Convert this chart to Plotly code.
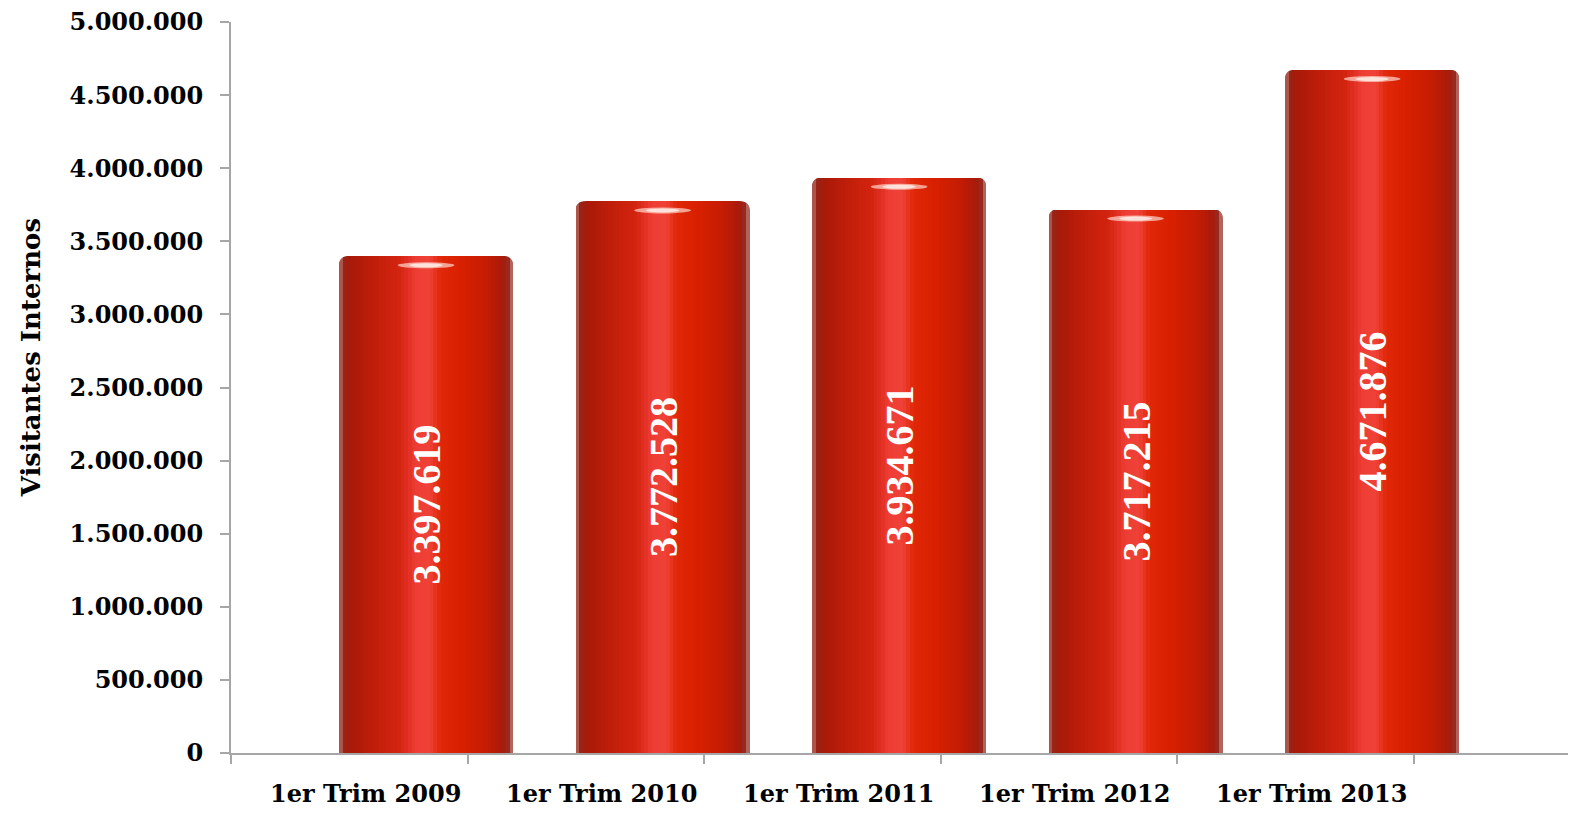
import plotly.graph_objects as go

# ---- data ----
categories = ["1er Trim 2009", "1er Trim 2010", "1er Trim 2011", "1er Trim 2012", "1er Trim 2013"]
values = [3397619, 3772528, 3934671, 3717215, 4671876]
y_ticks = [0, 500000, 1000000, 1500000, 2000000, 2500000, 3000000, 3500000, 4000000, 4500000, 5000000]
y_title = "Visitantes Internos"


def fmt(v):
    return f"{v:,}".replace(",", ".")


# ---- style ----
BAR_OFFSET = 0.825   # bar centre within each category slot
BAR_W = 0.736
N_STRIPS = 48
stops = [
    (0.00, (190, 120, 112)),
    (0.025, (150, 36, 24)),
    (0.07, (168, 26, 8)),
    (0.20, (192, 30, 10)),
    (0.35, (212, 36, 16)),
    (0.44, (238, 60, 52)),
    (0.52, (240, 66, 56)),
    (0.58, (224, 40, 8)),
    (0.70, (216, 32, 0)),
    (0.85, (196, 28, 4)),
    (0.94, (168, 26, 10)),
    (0.975, (150, 44, 36)),
    (1.00, (196, 140, 136)),
]


def grad(t):
    for (t0, c0), (t1, c1) in zip(stops[:-1], stops[1:]):
        if t0 <= t <= t1:
            f = (t - t0) / (t1 - t0) if t1 > t0 else 0
            c = [round(a + (b - a) * f) for a, b in zip(c0, c1)]
            return f"rgb({c[0]},{c[1]},{c[2]})"
    return "rgb(200,30,10)"


xc = [i + BAR_OFFSET for i in range(len(categories))]

fig = go.Figure()
sw = BAR_W / N_STRIPS
for k in range(N_STRIPS):
    left = -BAR_W / 2 + k * sw
    width = min(sw * 1.8, BAR_W / 2 - left)
    fig.add_trace(go.Bar(
        x=xc, y=values, offset=left, width=width,
        marker=dict(color=grad((k + 0.5) / N_STRIPS), line=dict(width=0)),
        hoverinfo="skip", showlegend=False,
    ))

# label layer
fig.add_trace(go.Bar(
    x=xc, y=values, width=BAR_W,
    marker=dict(color="rgba(0,0,0,0)", line=dict(width=0)),
    text=[fmt(v) for v in values], textposition="inside", textangle=-90,
    insidetextanchor="middle",
    textfont=dict(family="Liberation Serif", size=40, color="white", weight="bold"),
    showlegend=False, hovertemplate="%{text}<extra></extra>",
))

# pixel <-> data helpers (style only)
px_y = 5000000 / 731          # data units per pixel (y)
px_x = 1 / 236.5              # data units per pixel (x)
R = 11                        # corner radius in px

for x, v in zip(xc, values):
    # soft highlight near the top of each cylinder
    fig.add_shape(type="circle", xref="x", yref="y",
                  x0=x - 0.12, x1=x + 0.12,
                  y0=v - 12 * px_y, y1=v - 6 * px_y,
                  fillcolor="rgba(255,215,205,0.7)", line=dict(width=0), layer="above")
    fig.add_shape(type="circle", xref="x", yref="y",
                  x0=x - 0.07, x1=x + 0.07,
                  y0=v - 11 * px_y, y1=v - 7 * px_y,
                  fillcolor="rgba(255,240,235,0.8)", line=dict(width=0), layer="above")
    # rounded top corners (white masks)
    xl = x - BAR_W / 2 - 0.5 * px_x
    xr = x + BAR_W / 2 + 0.5 * px_x
    yt = v + 0.5 * px_y
    rx, ry = R * px_x, R * px_y
    fig.add_shape(type="path", xref="x", yref="y", layer="above", line=dict(width=0),
                  fillcolor="white",
                  path=f"M {xl},{yt} L {xl + rx},{yt} Q {xl},{yt} {xl},{yt - ry} Z")
    fig.add_shape(type="path", xref="x", yref="y", layer="above", line=dict(width=0),
                  fillcolor="white",
                  path=f"M {xr},{yt} L {xr - rx},{yt} Q {xr},{yt} {xr},{yt - ry} Z")

# x category labels
for i, c in enumerate(categories):
    fig.add_annotation(x=i + 1, y=0, xref="x", yref="paper", text=c,
                       xanchor="right", yanchor="top", xshift=-5, yshift=-24,
                       showarrow=False,
                       font=dict(family="DejaVu Serif", size=24, color="black", weight="bold"))

fig.add_annotation(x=0, y=0.54, xref="paper", yref="paper", text=y_title,
                   textangle=-90, xanchor="center", yanchor="middle", xshift=-200,
                   showarrow=False,
                   font=dict(family="DejaVu Serif", size=26, color="black", weight="bold"))

axis_col = "#a6a6a6"
# page body has an 8px margin: figure is 1568x807 so the plot lands where the reference's does
fig.update_layout(
    width=1568, height=807,
    margin=dict(l=223, r=6, t=14, b=62, autoexpand=False),
    paper_bgcolor="white", plot_bgcolor="white",
    barmode="overlay", bargap=0,
    xaxis=dict(range=[0, (1570 - 231) / 236.5], tickvals=list(range(6)),
               showticklabels=False, ticks="outside", ticklen=9, tickwidth=2,
               tickcolor=axis_col, showline=True, linecolor=axis_col, linewidth=2,
               showgrid=False, zeroline=False, fixedrange=True, automargin=False),
    yaxis=dict(range=[0, 5000000], tickvals=y_ticks, ticktext=[fmt(v) for v in y_ticks],
               ticks="outside", ticklen=9, tickwidth=2, tickcolor=axis_col,
               showline=True, linecolor=axis_col, linewidth=2, showgrid=False,
               zeroline=False, ticklabelstandoff=12, ticklabeloverflow="allow",
               automargin=False,
               tickfont=dict(family="DejaVu Serif", size=24, color="black", weight="bold")),
)

fig.write_html("out.html")
